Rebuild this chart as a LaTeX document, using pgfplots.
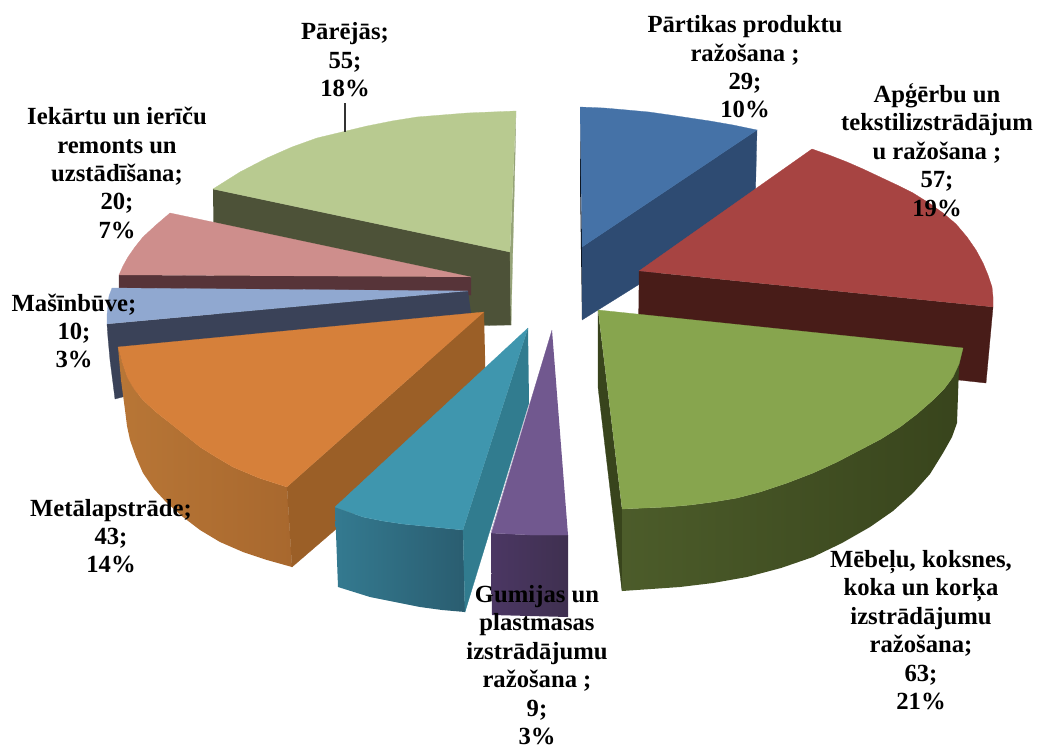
\documentclass[border=0pt]{standalone}
\usepackage{fontspec}
\setmainfont{Liberation Serif}
\usepackage{pgfplots}
\pgfplotsset{compat=1.18}

% slice colours: top face and side face
\definecolor{blueT}{HTML}{4572A7}
\definecolor{blueS}{HTML}{2E4B72}
\definecolor{redT}{HTML}{A74442}
\definecolor{redS}{HTML}{481C18}
\definecolor{greenT}{HTML}{87A54E}
\definecolor{greenL}{HTML}{4C5C2A}
\definecolor{greenS}{HTML}{38441C}
\definecolor{purpT}{HTML}{71588F}
\definecolor{purpL}{HTML}{4B3763}
\definecolor{purpS}{HTML}{3F3050}
\definecolor{tealT}{HTML}{3F96AE}
\definecolor{tealM}{HTML}{317C8F}
\definecolor{tealL}{HTML}{347A90}
\definecolor{tealS}{HTML}{2A5D70}
\definecolor{orT}{HTML}{D6803A}
\definecolor{orM}{HTML}{9B5F27}
\definecolor{orL}{HTML}{B87636}
\definecolor{orS}{HTML}{A8682E}
\definecolor{ltbT}{HTML}{90A8D0}
\definecolor{ltbS}{HTML}{3A4258}
\definecolor{pinkT}{HTML}{CE8E8C}
\definecolor{pinkS}{HTML}{573439}
\definecolor{lgT}{HTML}{B8CA90}
\definecolor{lgM}{HTML}{95A377}
\definecolor{lgS}{HTML}{4D5238}

\tikzset{lab/.style={align=center,inner sep=0pt,text=black,
  font=\fontsize{18.5}{21.3}\selectfont\bfseries}}

\begin{document}
\begin{tikzpicture}
\path[use as bounding box] (0,0) rectangle (778.5pt,562.5pt);
\begin{axis}[
  at={(0,0)}, anchor=south west,
  scale only axis, width=778.5pt, height=562.5pt,
  xmin=0, xmax=1038, ymin=0, ymax=750, y dir=reverse,
  hide axis, clip=false
]
% Parejas
\addplot[fill=lgS,draw=lgS,line width=.2pt] coordinates {(213,189)(510,252)(511,325)(215,330)};
\addplot[fill=lgM,draw=lgM,line width=.2pt] coordinates {(516,111)(515,160)(511,325)(510,252)};
\addplot[fill=lgT,draw=lgT,line width=.2pt] coordinates {(516,111)(491,112)(467,113)(442,115)(417,117)(392,121)(367,126)(342,132)(317,138)(292,147)(267,158)(240,172)(213,189)(510,252)};
\addplot[draw=black!80,line width=.8pt] coordinates {(345,103)(345,132)};
% Iekartu remonts
\addplot[fill=pinkS,draw=pinkS,line width=.2pt] coordinates {(471,277)(119,275)(119,295)(471,295)};
\addplot[fill=pinkT,draw=pinkT,line width=.2pt] coordinates {(471,277)(170,213)(156,225)(143,237)(135,247)(128,257)(123,266)(119,275)};
% Masinbuve
\addplot[fill=ltbS,draw=ltbS,line width=.2pt] coordinates {(468,291)(107,324)(108,338)(110,360)(115,399)(130,395)(471,360)(471,313)};
\addplot[fill=ltbT,draw=ltbT,line width=.2pt] coordinates {(468,291)(112,288)(109,296)(108,305)(107,315)(107,324)};
% Metalapstrade
\addplot[left color=orL,right color=orS,draw=none] coordinates {(118,347)(121,380)(125,410)(127,426)(130,440)(136,457)(143,473)(154,489)(167,503)(183,517)(200,530)(220,542)(243,552)(267,560)(292,567)(287,487)(259,478)(233,467)(216,457)(200,447)(185,435)(170,423)(156,412)(143,400)(134,389)(127,377)(122,362)};
\addplot[fill=orM,draw=orM,line width=.2pt] coordinates {(484,312)(287,487)(292,567)(486,400)};
\addplot[fill=orT,draw=orT,line width=.2pt] coordinates {(484,312)(118,347)(122,362)(127,377)(134,389)(143,400)(156,412)(170,423)(185,435)(200,447)(216,457)(233,467)(259,478)(287,487)};
% Gumijas
\addplot[left color=tealL,right color=tealS,draw=none] coordinates {(335,507)(338,587)(354,592)(370,597)(395,602)(420,607)(442,610)(465,612)(463,530)(433,527)(403,524)(383,521)(363,517)(349,512)};
\addplot[fill=tealM,draw=tealM,line width=.2pt] coordinates {(528,328)(463,530)(465,612)(529,403)};
\addplot[fill=tealT,draw=tealT,line width=.2pt] coordinates {(528,328)(335,507)(349,512)(363,517)(383,521)(403,524)(433,527)(463,530)};
\addplot[left color=purpL,right color=purpS,draw=none] coordinates {(491,533)(492,615)(568,617)(568,535)(530,535)};
\addplot[fill=purpT,draw=purpT,line width=.2pt] coordinates {(552,330)(491,533)(530,535)(568,535)};
\addplot[draw=purpT!40!white,line width=.5pt] coordinates {(529,405)(491,533)};
% Partikas
\addplot[fill=black!70!blueS,draw=none] coordinates {(580,107)(580,180)(582,320)(582,247)};
\addplot[fill=blueS,draw=blueS,line width=.2pt] coordinates {(582,247)(757,130)(755,212)(582,320)};
\addplot[fill=blueT,draw=blueT,line width=.2pt] coordinates {(580,107)(604,108)(627,110)(649,112)(670,115)(690,118)(710,121)(733,125)(757,130)(582,247)};
% Apgerbu
\addplot[fill=redS,draw=redS,line width=.2pt] coordinates {(639,271)(993,307)(986,383)(638,345)};
\addplot[fill=redT,draw=redT,line width=.2pt] coordinates {(639,271)(812,149)(829,155)(847,162)(863,169)(880,177)(897,185)(913,193)(929,203)(943,213)(956,224)(967,237)(976,250)(983,263)(988,275)(992,287)(993,297)(993,307)};
% Mebelu
\addplot[fill=greenS,draw=greenS,line width=.2pt] coordinates {(598,310)(598,387)(622,591)(622,509)};
\addplot[left color=greenL,middle color=greenS,right color=greenS,draw=none] coordinates {(622,509)(622,591)(651,589)(680,587)(713,583)(747,577)(781,568)(813,557)(842,543)(870,527)(893,511)(913,493)(930,474)(943,453)(952,437)(957,423)(958,395)(959,367)(963,348)(959,364)(953,377)(944,389)(933,400)(917,414)(900,427)(881,439)(860,450)(837,462)(813,473)(787,483)(760,492)(737,498)(713,502)(690,505)(667,507)(644,508)};
\addplot[fill=greenT,draw=greenT,line width=.2pt] coordinates {(598,310)(963,348)(959,364)(953,377)(944,389)(933,400)(917,414)(900,427)(881,439)(860,450)(837,462)(813,473)(787,483)(760,492)(737,498)(713,502)(690,505)(667,507)(644,508)(622,509)};

% data labels
\node[lab] at (axis cs:745,67) {Pārtikas produktu\\ražošana ;\\29;\\10\%};
\node[lab] at (axis cs:937,150) {Apģērbu un\\tekstilizstrādājum\\u ražošana ;\\57;\\19\%};
\node[lab] at (axis cs:921,630) {Mēbeļu, koksnes,\\koka un korķa\\izstrādājumu\\ražošana;\\63;\\21\%};
\node[lab] at (axis cs:537,665) {Gumijas un\\plastmasas\\izstrādājumu\\ražošana ;\\9;\\3\%};
\node[lab] at (axis cs:111,536) {Metālapstrāde;\\43;\\14\%};
\node[lab] at (axis cs:74,331) {Mašīnbūve;\\10;\\3\%};
\node[lab] at (axis cs:117,173) {Iekārtu un ierīču\\remonts un\\uzstādīšana;\\20;\\7\%};
\node[lab] at (axis cs:345,60) {Pārējās;\\55;\\18\%};
\end{axis}
\end{tikzpicture}
\end{document}
